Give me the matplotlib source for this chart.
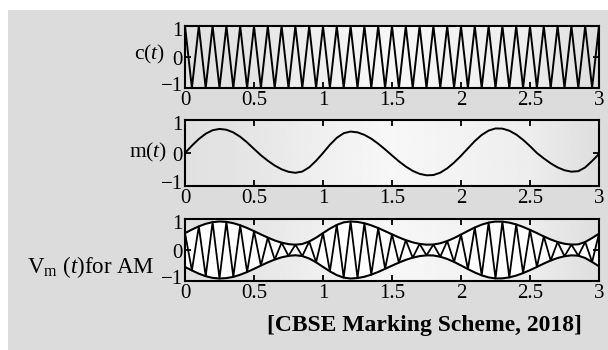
import numpy as np
import matplotlib
matplotlib.use("Agg")
import matplotlib.pyplot as plt
import matplotlib.transforms as mtransforms
from matplotlib.patches import Rectangle

# ---------------- data ----------------
t_samples = [0.00, 0.05, 0.10, 0.15, 0.20, 0.25, 0.30, 0.35, 0.40, 0.45,
             0.50, 0.55, 0.60, 0.65, 0.70, 0.75, 0.80, 0.85, 0.90, 0.95,
             1.00, 1.05, 1.10, 1.15, 1.20, 1.25, 1.30, 1.35, 1.40, 1.45,
             1.50, 1.55, 1.60, 1.65, 1.70, 1.75, 1.80, 1.85, 1.90, 1.95,
             2.00, 2.05, 2.10, 2.15, 2.20, 2.25, 2.30, 2.35, 2.40, 2.45,
             2.50, 2.55, 2.60, 2.65, 2.70, 2.75, 2.80, 2.85, 2.90, 2.95,
             3.00]

carrier_values = [1, -1, 1, -1, 1, -1, 1, -1, 1, -1,
                  1, -1, 1, -1, 1, -1, 1, -1, 1, -1,
                  1, -1, 1, -1, 1, -1, 1, -1, 1, -1,
                  1, -1, 1, -1, 1, -1, 1, -1, 1, -1,
                  1, -1, 1, -1, 1, -1, 1, -1, 1, -1,
                  1, -1, 1, -1, 1, -1, 1, -1, 1, -1,
                  1]

message_values = [0.000, 0.222, 0.423, 0.584, 0.690, 0.730, 0.705, 0.624, 0.492, 0.321,
                  0.124, -0.068, -0.233, -0.379, -0.494, -0.570, -0.600, -0.562, -0.434, -0.236,
                  0.000, 0.249, 0.460, 0.600, 0.650, 0.625, 0.550, 0.433, 0.282, 0.109,
                  -0.073, -0.252, -0.411, -0.541, -0.632, -0.676, -0.668, -0.596, -0.465, -0.290,
                  -0.085, 0.140, 0.361, 0.547, 0.679, 0.744, 0.739, 0.676, 0.560, 0.399,
                  0.208, 0.000, -0.163, -0.313, -0.437, -0.523, -0.566, -0.551, -0.437, -0.241,
                  -0.030]

am_envelope = [0.545, 0.659, 0.763, 0.845, 0.899, 0.920, 0.907, 0.866, 0.798, 0.710,
               0.609, 0.502, 0.400, 0.308, 0.236, 0.189, 0.170, 0.194, 0.274, 0.397,
               0.545, 0.689, 0.810, 0.892, 0.920, 0.905, 0.863, 0.795, 0.708, 0.608,
               0.505, 0.406, 0.318, 0.247, 0.197, 0.172, 0.177, 0.217, 0.289, 0.385,
               0.498, 0.615, 0.726, 0.818, 0.884, 0.917, 0.915, 0.883, 0.825, 0.745,
               0.649, 0.545, 0.437, 0.339, 0.258, 0.201, 0.173, 0.183, 0.258, 0.386,
               0.526]

am_values = [0.545, -0.659, 0.763, -0.845, 0.899, -0.920, 0.907, -0.866, 0.798, -0.710,
             0.609, -0.502, 0.400, -0.308, 0.236, -0.189, 0.170, -0.194, 0.274, -0.397,
             0.545, -0.689, 0.810, -0.892, 0.920, -0.905, 0.863, -0.795, 0.708, -0.608,
             0.505, -0.406, 0.318, -0.247, 0.197, -0.172, 0.177, -0.217, 0.289, -0.385,
             0.498, -0.615, 0.726, -0.818, 0.884, -0.917, 0.915, -0.883, 0.825, -0.745,
             0.649, -0.545, 0.437, -0.339, 0.258, -0.201, 0.173, -0.183, 0.258, -0.386,
             0.526]

x_ticks = [0, 0.5, 1, 1.5, 2, 2.5, 3]
x_tick_labels = ["0", "0.5", "1", "1.5", "2", "2.5", "3"]
y_ticks = [-1, 0, 1]
y_tick_labels = ["\u22121", "0", "1"]
panel_labels = [r"c($t$)", r"m($t$)", r"V$_{\rm m}$ ($t$)for AM"]
source_text = "[CBSE Marking Scheme, 2018]"

# ---------------- style ----------------
plt.rcParams['font.family'] = ['Liberation Serif', 'DejaVu Serif']
plt.rcParams['mathtext.fontset'] = 'custom'
plt.rcParams['mathtext.rm'] = 'Liberation Serif'
plt.rcParams['mathtext.it'] = 'Liberation Serif:italic'

W, H = 608, 350
fig = plt.figure(figsize=(W / 100, H / 100), dpi=100)
fig.patch.set_facecolor('white')
fig.patches.append(Rectangle((8 / W, 0), 1 - 8 / W, 1 - 10 / H,
                             transform=fig.transFigure, facecolor='#dcdcdc',
                             edgecolor='none', zorder=-10))

# panel boxes in pixels: (left, top, right, bottom)
boxes = [(185, 26, 599, 88), (185, 120, 599, 186), (185, 219, 599, 281)]
label_pos = [(165, 54), (167, 152), (155, 267)]
label_sizes = [15.5, 15.5, 16.5]
# small vertical nudges (in pixels, positive = up) for the y tick labels -1, 0, 1
ytl_nudge = [4, -1, -3]

grad_stops_x = [0.0, 0.5, 1.0, 1.5, 2.0, 2.5, 3.0]
grad_stops_v = [0.88, 0.90, 0.94, 0.97, 0.95, 0.93, 0.87]
gx = np.linspace(0, 3, 300)
grad = np.interp(gx, grad_stops_x, grad_stops_v)[None, :]

t = np.array(t_samples)
env = np.array(am_envelope)

axes = []
for i, (l, tp, r, b) in enumerate(boxes):
    ax = fig.add_axes([l / W, 1 - b / H, (r - l) / W, (b - tp) / H])
    ax.set_zorder(5)
    ax.set_facecolor('none')
    ax.imshow(grad, extent=[0, 3, -1, 1], aspect='auto', cmap='gray',
              vmin=0, vmax=1, zorder=0, interpolation='bilinear')
    ax.set_xlim(0, 3)
    ax.set_ylim(-1, 1)
    ax.set_xticks(x_ticks)
    ax.set_xticklabels(x_tick_labels)
    ax.set_yticks(y_ticks)
    ax.set_yticklabels(y_tick_labels)
    ax.tick_params(direction='in', length=4, width=1.3, top=True, right=True,
                   labelsize=15, colors='black', pad=1.5)
    ax.tick_params(axis='x', pad=2)
    for lab, dy in zip(ax.get_yticklabels(), ytl_nudge):
        lab.set_transform(lab.get_transform() +
                          mtransforms.ScaledTranslation(0, dy / 100, fig.dpi_scale_trans))
    for s in ax.spines.values():
        s.set_linewidth(1.5)
        s.set_color('black')
    fig.text(label_pos[i][0] / W, 1 - label_pos[i][1] / H, panel_labels[i],
             ha='right', va='center', fontsize=label_sizes[i])
    axes.append(ax)

axes[0].plot(t, carrier_values, color='black', lw=1.4, zorder=3)
axes[1].plot(t, message_values, color='black', lw=1.4, zorder=3)
axes[2].fill_between(t, -env, env, color='white', zorder=1, lw=0)
axes[2].plot(t, am_values, color='black', lw=1.3, zorder=3)
axes[2].plot(t, env, color='black', lw=1.5, zorder=3)
axes[2].plot(t, -env, color='black', lw=1.5, zorder=3)

fig.text(582 / W, 1 - 325 / H, source_text, ha='right', va='center',
         fontsize=17, fontweight='bold')

fig.savefig('out.png', dpi=100)
